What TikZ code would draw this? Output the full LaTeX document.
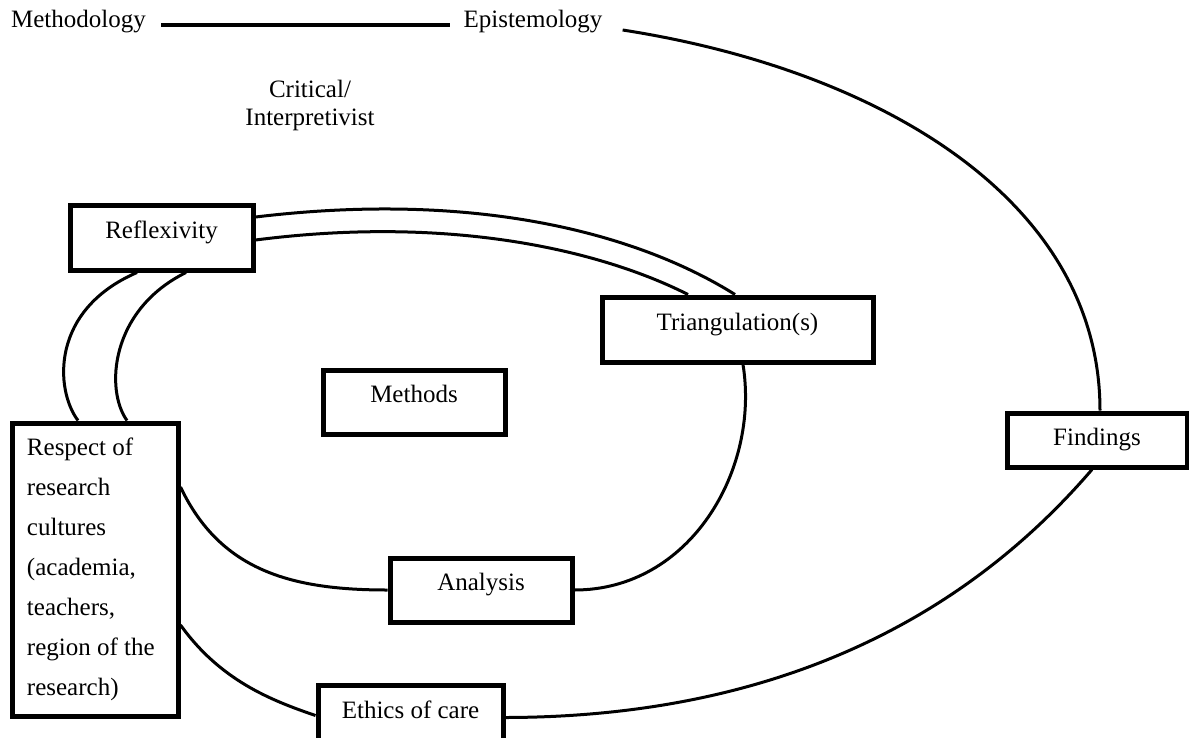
\documentclass[tikz,border=0pt]{standalone}
\usepackage{fontspec}
\setmainfont{Liberation Serif}
\usetikzlibrary{calc}
\begin{document}
\begin{tikzpicture}[x=1pt,y=-1pt,
  every node/.style={font=\fontsize{25}{28}\selectfont},
  txt/.style={inner sep=0pt},
  box/.style={draw, line width=5pt, inner sep=0pt, text height=17pt, text depth=16pt},
  conn/.style={line width=3pt}]
\clip (0,0) rectangle (1189,737);

% headings
\node[txt] (mth) at (78.5,22) {Methodology};
\node[txt] (epi) at (533,22) {Epistemology};
\node[txt, align=center] (crit) at (310,105) {Critical/\\Interpretivist};

% boxes
\node[box, minimum width=183pt, minimum height=65pt] (refl) at (161.5,237.5) {Reflexivity};
\node[box, minimum width=271pt, minimum height=65pt] (tri) at (737.5,329.5) {Triangulation(s)};
\node[box, minimum width=182pt, minimum height=64pt] (meths) at (414,402) {Methods};
\node[box, minimum width=180pt, minimum height=54pt, text depth=7pt] (find) at (1097,440) {Findings};
\node[box, minimum width=182pt, minimum height=64pt] (ana) at (481,590) {Analysis};
\node[box, minimum width=185pt, minimum height=65pt] (eth) at (410.5,717.5) {Ethics of care};
\node[draw, line width=5pt, minimum width=166pt, minimum height=293pt,
      text width=136pt, align=flush left, inner sep=0pt,
      font=\fontsize{25}{40}\selectfont] (resp) at (95,569.5)
  {Respect of\\research\\cultures\\(academia,\\teachers,\\region of the\\research)};

% connectors
\draw[line width=4pt] ($(mth.east)+(15,3)$) -- ($(epi.west)+(-13,3)$);
\draw[conn] ($(epi.east)+(20,8)$) .. controls (880,70) and (1100,200) .. ($(find.north)+(3,0)$);
\draw[conn] ($(find.south)+(-5,0)$) .. controls (980,600) and (800,717) .. (eth.east);

\draw[conn] ($(refl.east)+(0,-20.5)$) .. controls (480,190) and (640,235) .. ($(tri.north)+(-2.5,0)$);
\draw[conn] ($(refl.east)+(0,2.5)$) .. controls (450,215) and (600,250) .. ($(tri.north)+(-49.5,0)$);

\draw[conn] ($(refl.south)+(-24.5,0)$) .. controls (50,310) and (55,390) .. ($(resp.north)+(-17,0)$);
\draw[conn] ($(refl.south)+(24.5,0)$) .. controls (110,310) and (105,390) .. ($(resp.north)+(32,0)$);

\draw[conn] ($(tri.south)+(5.5,0)$) .. controls (760,470) and (690,590) .. (ana.east);
\draw[conn] ($(resp.east)+(0,-82.5)$) .. controls (220,570) and (290,590) .. (ana.west);
\draw[conn] ($(resp.east)+(0,55.5)$) .. controls (220,680) and (270,700) .. ($(eth.west)+(0,-2)$);
\end{tikzpicture}
\end{document}
